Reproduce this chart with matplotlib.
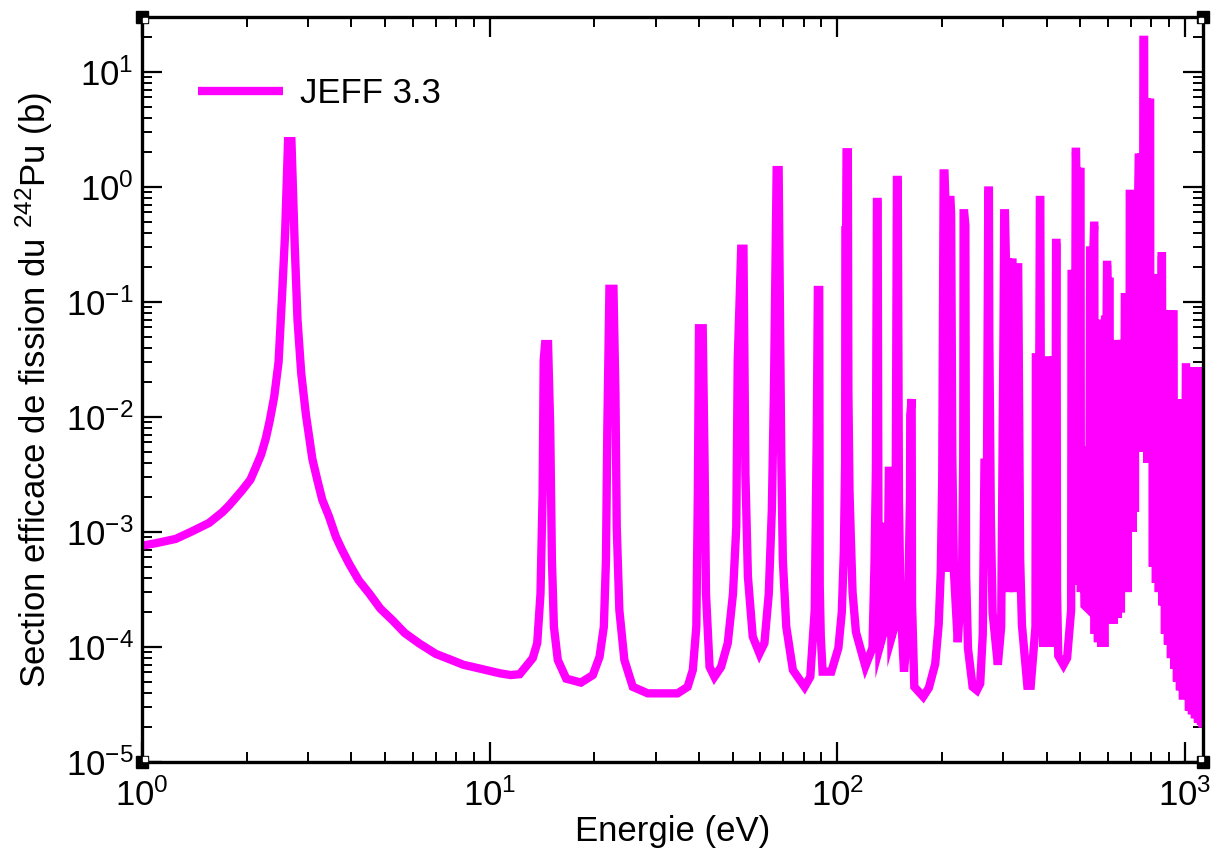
import numpy as np
import matplotlib
matplotlib.use('Agg')
import matplotlib.pyplot as plt
from matplotlib.ticker import LogLocator, NullFormatter
from matplotlib.transforms import offset_copy

plt.rcParams['font.family'] = ['Liberation Sans', 'DejaVu Sans']
plt.rcParams['mathtext.fontset'] = 'custom'
plt.rcParams['mathtext.rm'] = 'Liberation Sans'
plt.rcParams['mathtext.it'] = 'Liberation Sans:italic'
plt.rcParams['axes.unicode_minus'] = False

# JEFF 3.3 fission cross-section of Pu-242, path vertices
energy_ev = [
    1.00, 1.10, 1.25, 1.40, 1.56, 1.70, 1.78, 1.94, 2.05, 2.12, 2.20, 2.27, 2.33, 2.40,
    2.47, 2.53, 2.58, 2.63, 2.69, 2.75, 2.80, 2.87, 2.96, 3.09, 3.20, 3.30, 3.45, 3.61,
    3.75, 3.94, 4.20, 4.51, 4.85, 5.26, 5.70, 6.28, 7.00, 7.68, 8.40, 9.14, 10.7, 11.5,
    12.2,
    13.3, 13.7, 14.0, 14.2, 14.3, 14.43, 14.72, 14.93, 15.1, 15.3, 15.7, 16.6, 18.3, 19.8,
    20.7, 21.3, 21.6, 21.8, 22.1, 22.7, 23.0, 23.2, 23.6, 24.4, 25.8, 28.5, 34.7, 37.1,
    38.4, 39.3, 39.7, 40.0, 41.0, 41.5, 41.9, 42.9, 44.3, 46.3, 48.4, 50.1, 51.2, 51.7,
    52.9, 53.7, 54.4, 55.3, 57.1, 59.7, 61.7, 63.5, 64.8, 65.7, 66.9, 67.8, 69.0, 69.7,
    71.3, 74.5, 80.5, 83.6, 86.1, 87.3, 87.9, 88.7, 89.0, 89.6, 90.7, 96.1,
    100.7, 103.0, 104.4, 105.3, 105.5, 106.0, 106.3, 107.2, 107.6, 108.4, 109.4, 110.6,
    113.1, 120.4, 126.2, 127.9, 129.1, 130.0, 130.6, 131.3, 132.1, 135.5, 137.5, 139.0,
    140.7, 141.7, 143.0, 146.0, 147.3, 148.4, 149.2, 150.4, 152.0, 155.5, 159.5, 161.8,
    162.1, 163.6, 164.0, 166.5, 176.6, 183.3, 191.2, 195.7, 198.4, 200.3, 202.2, 203.4,
    204.5, 206.0, 207.8, 211.6, 212.5, 214.2, 216.5, 222.0, 228.5, 230.2, 230.8, 231.8,
    233.5, 234.6, 237.6, 245.0, 252.0, 257.6, 262.0, 265.0, 269.5, 271.8, 272.9, 273.6,
    276.4, 279.6, 289.5, 296.0, 300.5, 302.0, 303.5, 305.5, 309.5, 312.0, 314.5, 319.0,
    321.5, 324.0, 331.3, 335.6, 339.6, 352.0, 360.0, 371.5, 372.5, 381.0, 382.5, 383.5,
    385.0, 391.0, 404.0, 411.0, 414.5, 418.0, 425.0, 425.8, 427.0, 428.5, 432.0, 447.2,
    458.0, 470.5, 471.9, 484.0, 485.0, 486.0, 487.0, 493.0, 495.0, 497.0, 500.6, 502.0,
    508.0, 514.0, 530.0, 533.5, 545.0, 547.8, 548.5, 550.0, 553.0, 562.0, 566.0, 575.0,
    578.3, 586.0, 589.0, 595.0, 596.7, 597.5, 599.0, 607.1, 608.0, 612.0, 624.3, 628.0,
    639.0, 641.1, 645.0, 652.0, 654.0, 658.0, 670.7, 671.5, 680.0, 682.8, 686.0, 693.3,
    693.8, 695.2, 696.0, 704.0, 705.9, 708.0, 716.0, 717.8, 720.0, 733.0, 736.2, 743.0,
    746.9, 751.0, 758.5, 759.4, 762.9, 763.5, 777.2, 779.0, 781.0, 793.9, 794.5, 806.1,
    808.5, 811.0, 822.0, 825.0, 828.5, 838.0, 841.0, 845.0, 855.8, 856.5, 858.6, 859.5,
    862.0, 866.0, 872.0, 875.9, 880.0, 890.0, 893.4, 897.0, 908.0, 911.4, 915.0, 927.0,
    930.9, 932.0, 945.0, 948.4, 952.0, 964.0, 967.4, 971.0, 983.0, 986.8, 990.0, 1005.0,
    1006.2, 1007.2, 1008.0, 1023.0, 1026.9, 1031.0, 1043.0, 1047.6, 1052.0, 1064.0, 1068.6, 1073.0,
    1086.0, 1090.2, 1094.0, 1108.0, 1112.2, 1116.0, 1125.0, 1129.0, 1154.0, 1155.6, 1160.0,
]
sigma_b = [
    7.6e-4, 8.0e-4, 8.7e-4, 1.02e-3, 1.2e-3, 1.48e-3, 1.7e-3, 2.3e-3, 2.85e-3, 3.6e-3, 4.7e-3, 6.5e-3, 9.3e-3, 1.5e-2,
    3.0e-2, 0.12, 0.4, 2.5, 2.5, 0.3, 0.07, 0.024, 0.0105, 4.3e-3, 2.75e-3, 1.9e-3, 1.36e-3, 9.1e-4,
    7.1e-4, 5.3e-4, 3.8e-4, 2.9e-4, 2.15e-4, 1.7e-4, 1.32e-4, 1.07e-4, 8.7e-5, 7.8e-5, 7.0e-5, 6.6e-5, 5.9e-5, 5.7e-5,
    5.8e-5,
    8.0e-5, 1.08e-4, 2.9e-4, 2.2e-3, 0.031, 0.043, 0.043, 8.2e-3, 5.7e-4, 1.5e-4, 7.7e-5, 5.3e-5, 4.9e-5, 5.7e-5,
    8.2e-5, 1.5e-4, 5.7e-4, 8.2e-3, 0.13, 0.13, 0.016, 1.1e-3, 2.1e-4, 7.7e-5, 4.5e-5, 3.95e-5, 3.95e-5, 4.5e-5,
    6.3e-5, 1.5e-4, 2.2e-3, 0.059, 0.059, 4.2e-3, 2.9e-4, 6.7e-5, 5.5e-5, 6.7e-5, 1.08e-4, 2.9e-4, 1.1e-3, 0.031,
    0.29, 0.29, 3.2e-3, 4.1e-4, 1.23e-4, 8.8e-5, 1.08e-4, 2.9e-4, 1.55e-3, 0.016, 1.4, 1.4, 4.2e-3, 5.7e-4,
    1.5e-4, 6.3e-5, 4.5e-5, 5.5e-5, 2.1e-4, 8.2e-3, 0.127, 0.127, 3.4e-4, 1.25e-4, 6.1e-5, 6.1e-5,
    9.8e-5, 2.0e-4, 6.7e-4, 4.0e-3, 0.42, 0.42, 2.0, 2.0, 0.016, 2.25e-3, 8.6e-4, 3.0e-4,
    1.35e-4, 6.8e-5, 9.8e-5, 5.3e-4, 3.4e-3, 0.74, 0.74, 1.1e-3, 9.8e-5, 1.3e-4, 1.2e-3, 1.3e-4,
    3.4e-3, 3.4e-3, 1.2e-4, 1.5e-4, 3.4e-3, 1.15, 1.15, 1.8e-3, 2.4e-4, 6.1e-5, 1.5e-4, 2.0e-3,
    0.0104, 0.0143, 2.4e-4, 4.5e-5, 3.7e-5, 4.4e-5, 7.1e-5, 1.58e-4, 4.5e-4, 2.9e-3, 1.31, 1.31,
    0.77, 4.5e-4, 0.77, 0.77, 0.58, 4.3e-3, 4.5e-4, 1.1e-4, 4.5e-4, 4.3e-3, 0.59, 0.59,
    0.465, 4.3e-4, 9.7e-5, 4.5e-5, 4.2e-5, 4.8e-5, 1.28e-4, 4.0e-3, 4.0e-3, 0.93, 0.93, 0.052,
    1.38e-3, 2.0e-4, 7.0e-5, 1.5e-4, 0.052, 0.59, 0.59, 0.22, 0.22, 3.0e-4, 0.22, 0.22,
    3.0e-4, 0.20, 0.20, 5.9e-4, 1.55e-4, 4.6e-5, 4.6e-5, 1.5e-4, 0.033, 0.033, 0.77, 0.77,
    0.0135, 1.0e-4, 0.031, 0.031, 1.0e-4, 0.031, 0.031, 0.326, 0.326, 3.1e-4, 8.4e-5, 7.0e-5,
    8.0e-5, 2.1e-4, 0.175, 0.175, 2.02, 2.02, 1.35, 1.35, 3.5e-4, 1.35, 1.35, 3.0e-4,
    5.5e-3, 2.3e-4, 2.1e-4, 0.28, 0.28, 0.46, 0.46, 1.3e-4, 0.044, 1.1e-4, 0.044, 1.0e-4,
    0.07, 1.0e-4, 0.07, 0.07, 0.21, 0.21, 0.15, 0.15, 1.6e-4, 0.043, 1.6e-4, 0.043,
    0.043, 1.8e-4, 0.043, 0.043, 2.0e-4, 0.043, 0.043, 0.11, 0.11, 3.0e-4, 0.11, 0.11,
    0.87, 0.87, 0.74, 0.74, 1.0e-3, 0.74, 0.74, 1.5e-3, 0.74, 0.74, 1.8, 1.8,
    5.0e-3, 1.8, 1.8, 19.0, 19.0, 5.4, 5.4, 4.0e-3, 5.4, 5.4, 0.16, 0.16,
    5.0e-4, 0.16, 0.16, 3.6e-4, 0.16, 0.16, 3.0e-4, 0.16, 0.16, 0.25, 0.25, 0.078,
    2.3e-4, 0.078, 0.078, 1.3e-4, 0.078, 0.078, 1.05e-4, 0.078, 0.078, 8.0e-5, 0.078, 0.078,
    6.5e-5, 0.013, 0.013, 5.0e-5, 0.013, 0.013, 4.2e-5, 0.013, 0.013, 3.5e-5, 0.013, 0.013,
    0.027, 0.027, 0.025, 0.025, 2.8e-5, 0.025, 0.025, 2.6e-5, 0.025, 0.025, 2.4e-5, 0.025,
    0.025, 2.2e-5, 0.025, 0.025, 2.1e-5, 0.025, 2.0e-5, 0.025, 0.025, 0.038, 0.038,
]

fig = plt.figure(figsize=(12.12, 8.55), dpi=100)
ax = fig.add_axes([0.1172, 0.1088, 0.8754, 0.8713])

ax.plot(energy_ev, sigma_b, color='#ff00ff', lw=6.0, solid_joinstyle='miter',
        solid_capstyle='butt', label='JEFF 3.3')

ax.set_xscale('log')
ax.set_yscale('log')
ax.set_xlim(1, 1127)
ax.set_ylim(1e-5, 30)

for axis in (ax.xaxis, ax.yaxis):
    axis.set_major_locator(LogLocator(base=10, numticks=20))
    axis.set_minor_locator(LogLocator(base=10, subs=np.arange(2, 10), numticks=100))
    axis.set_minor_formatter(NullFormatter())

ax.tick_params(which='both', direction='in', top=True, right=True, labelsize=25)
ax.tick_params(which='major', length=14.5, width=1.6)
ax.tick_params(which='minor', length=7.5, width=1.4)
ax.tick_params(axis='x', which='major', pad=12)
ax.tick_params(axis='y', which='major', pad=6)
for sp in ax.spines.values():
    sp.set_linewidth(2.4)

ax.set_xlabel('Energie (eV)', fontsize=25, labelpad=1)
ax.set_ylabel('Section efficace de fission du $^{242}$Pu (b)', fontsize=25, labelpad=8)

ax.legend(loc='upper left', bbox_to_anchor=(0.0528, 0.919), frameon=False, fontsize=25,
          handlelength=2.45, handletextpad=0.5, borderaxespad=0, borderpad=0)

# small corner squares like the original plotting program
ax.plot([0, 1, 0, 1], [0, 0, 1, 1], 's', color='black', ms=8.5,
        transform=ax.transAxes, clip_on=False, zorder=6)
for cx, cy in [(0, 0), (1, 0), (0, 1), (1, 1)]:
    tr = offset_copy(ax.transAxes, fig=fig, x=2.5 if cx == 0 else -2.5,
                     y=2.5 if cy == 0 else -2.5, units='dots')
    ax.plot([cx], [cy], 's', color='white', ms=2.5, transform=tr, clip_on=False, zorder=7)

fig.savefig('out.png', dpi=100)
